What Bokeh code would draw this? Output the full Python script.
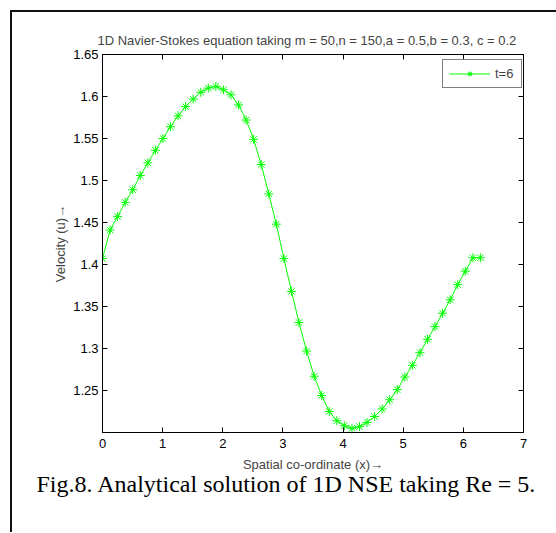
from bokeh.plotting import figure
from bokeh.models import (LinearAxis, FixedTicker, CustomJSTickFormatter, Legend,
                          LegendItem, Range1d, Title, Spacer, Row, Column)
from bokeh.embed import file_html
from bokeh.resources import INLINE

# ---- data ----
x_vals = [0.000, 0.126, 0.251, 0.377, 0.503, 0.628, 0.754, 0.880, 1.005, 1.131,
          1.257, 1.382, 1.508, 1.634, 1.759, 1.885, 2.011, 2.136, 2.262, 2.388,
          2.513, 2.639, 2.765, 2.890, 3.016, 3.142, 3.267, 3.393, 3.519, 3.644,
          3.770, 3.896, 4.021, 4.147, 4.273, 4.398, 4.524, 4.650, 4.775, 4.901,
          5.027, 5.152, 5.278, 5.404, 5.529, 5.655, 5.781, 5.906, 6.032, 6.158,
          6.283]
u_vals = [1.407, 1.441, 1.457, 1.474, 1.489, 1.506, 1.521, 1.536, 1.550, 1.564,
          1.577, 1.588, 1.597, 1.605, 1.610, 1.612, 1.608, 1.602, 1.590, 1.572,
          1.549, 1.519, 1.484, 1.448, 1.407, 1.368, 1.331, 1.297, 1.267, 1.244,
          1.225, 1.214, 1.208, 1.205, 1.207, 1.212, 1.219, 1.228, 1.239, 1.251,
          1.266, 1.280, 1.295, 1.311, 1.326, 1.342, 1.358, 1.376, 1.392, 1.408,
          1.408]
x_ticks = [0, 1, 2, 3, 4, 5, 6, 7]
y_ticks = [1.25, 1.3, 1.35, 1.4, 1.45, 1.5, 1.55, 1.6, 1.65]
series_label = "t=6"
title_text = "1D Navier-Stokes equation taking m = 50,n = 150,a = 0.5,b =  0.3, c = 0.2"
x_label = "Spatial co-ordinate (x)\u2192"
y_label = "Velocity (u)\u2192"
caption = "Fig.8. Analytical solution of 1D NSE taking Re = 5."

FONT = "Liberation Sans"
FS = "13px"
GREEN = "#00ff00"
FRAME = "#111111"

p = figure(width=543, height=520, output_backend="svg", toolbar_location=None,
           x_range=Range1d(0, 7), y_range=Range1d(1.2, 1.65),
           min_border_left=90, min_border_right=32, min_border_top=42,
           min_border_bottom=100, x_axis_location=None, y_axis_location=None)
p.grid.visible = False
p.outline_line_color = "black"
p.outline_line_width = 1
p.background_fill_color = "white"
p.border_fill_color = "white"

p.title.text = title_text
p.title.text_font = FONT
p.title.text_font_size = FS
p.title.text_font_style = "normal"
p.title.align = "left"
p.title.offset = -5
p.title.standoff = 13

fmt = CustomJSTickFormatter(code="return Number(tick.toFixed(2)).toString();")
blank = CustomJSTickFormatter(code="return '';")

def style_axis(ax, ticks, labels=True):
    ax.ticker = FixedTicker(ticks=ticks)
    ax.formatter = fmt if labels else blank
    ax.major_tick_in = 5
    ax.major_tick_out = 0
    ax.minor_tick_line_color = None
    ax.axis_line_color = "black"
    ax.major_tick_line_color = "black"
    ax.major_label_text_font = FONT
    ax.major_label_text_font_size = FS
    ax.major_label_text_color = "black"
    ax.axis_label_text_font = FONT
    ax.axis_label_text_font_size = FS
    ax.axis_label_text_font_style = "normal"
    if not labels:
        ax.major_label_standoff = 0

bottom = LinearAxis(axis_label=x_label)
style_axis(bottom, x_ticks)
bottom.major_label_standoff = 6
bottom.axis_label_standoff = 6
p.add_layout(bottom, "below")

left = LinearAxis(axis_label=y_label)
style_axis(left, y_ticks)
left.major_label_standoff = 4
left.axis_label_standoff = 2
p.add_layout(left, "left")

top = LinearAxis()
style_axis(top, x_ticks, labels=False)
p.add_layout(top, "above")

right = LinearAxis()
style_axis(right, y_ticks, labels=False)
p.add_layout(right, "right")

ln = p.line(x_vals, u_vals, line_color=GREEN, line_width=1)
mk = p.scatter(x_vals, u_vals, marker="asterisk", size=9, line_color=GREEN,
               line_width=1)

legend = Legend(items=[LegendItem(label=series_label, renderers=[ln, mk])],
                location=(340, 344), margin=0, padding=6, spacing=0,
                glyph_width=41, glyph_height=13, label_height=13,
                label_standoff=5, border_line_color="black", border_line_width=1,
                background_fill_color="white", background_fill_alpha=1,
                label_text_font=FONT, label_text_font_size=FS)
p.add_layout(legend, "center")

cap = Title(text=caption, text_font="Liberation Serif", text_font_size="24px",
            text_font_style="normal", text_color="black", align="left",
            offset=-66, standoff=-11)
p.add_layout(cap, "below")

# outer figure frame (top and left edges)
top_line = Spacer(width=546, height=2, styles={"background-color": FRAME})
left_line = Spacer(width=2, height=520, styles={"background-color": FRAME})
root = Column(children=[
    Spacer(width=556, height=10),
    Row(children=[Spacer(width=10, height=2), top_line]),
    Row(children=[Spacer(width=10, height=520), left_line, p]),
])

open("out.html", "w").write(file_html(root, INLINE))
